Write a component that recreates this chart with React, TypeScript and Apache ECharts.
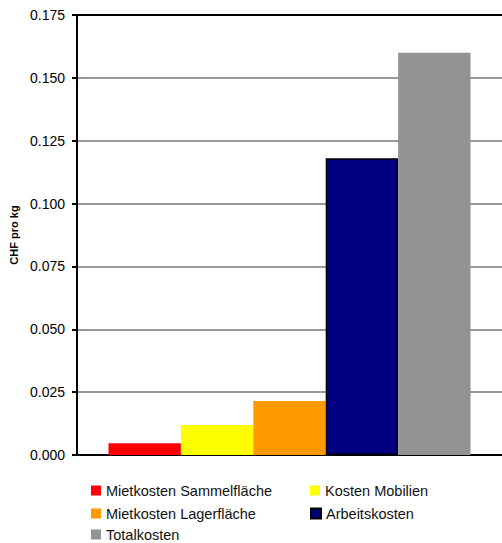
import React, { useEffect, useRef } from "react";
import * as echarts from "echarts";

const categories = [""];
const seriesNames = [
  "Mietkosten Sammelfläche",
  "Kosten Mobilien",
  "Mietkosten Lagerfläche",
  "Arbeitskosten",
  "Totalkosten",
];
const seriesValues = [0.0047, 0.0119, 0.0215, 0.118, 0.16];
const seriesColors = ["#FF0000", "#FFFF00", "#FF9900", "#000080", "#939393"];
const yTicks = { min: 0, max: 0.175, interval: 0.025 };
const yAxisName = "CHF pro kg";

const FONT = "'Liberation Sans', Arial, sans-serif";

export default function App() {
  const ref = useRef<HTMLDivElement>(null);
  useEffect(() => {
    if (!ref.current) return;
    const chart = echarts.init(ref.current, undefined, { renderer: "svg" });
    const series = seriesNames.map((name, i) => ({
      name,
      type: "bar",
      xAxisIndex: 0,
      data: [seriesValues[i]],
      barWidth: 72.4,
      barGap: "0%",
      itemStyle: {
        color: seriesColors[i],
        borderColor: i === 3 ? "#000" : seriesColors[i],
        borderWidth: i === 3 ? 1.5 : 0,
      },
    }));
    const legendText = { fontFamily: FONT, fontSize: 14.5, color: "#111" };
    // legend placement: [seriesIndex, left, centerY]
    const legendPos: [number, number, number][] = [
      [0, 91, 491],
      [1, 310, 491],
      [2, 91, 514],
      [3, 310, 514],
      [4, 91, 535],
    ];
    const legends = legendPos.map(([si, left, cy]) => ({
      data: [seriesNames[si]],
      orient: "horizontal",
      left,
      top: cy - 8,
      padding: 0,
      itemWidth: 10,
      itemHeight: 10,
      itemGap: 0,
      icon: "rect",
      textStyle: legendText,
      selectedMode: false,
    }));
    chart.setOption({
      animation: false,
      backgroundColor: "#fff",
      grid: { left: 73, top: 15, width: 442, height: 440 },
      xAxis: [
        {
          type: "category",
          data: categories,
          position: "bottom",
          axisLine: { lineStyle: { color: "#000", width: 2 } },
          axisTick: { show: false },
          axisLabel: { show: false },
        },
        {
          type: "category",
          data: categories,
          position: "top",
          axisLine: { lineStyle: { color: "#000", width: 2 } },
          axisTick: { show: false },
          axisLabel: { show: false },
        },
      ],
      yAxis: {
        type: "value",
        min: yTicks.min,
        max: yTicks.max,
        interval: yTicks.interval,
        name: yAxisName,
        nameLocation: "middle",
        nameGap: 58,
        nameTextStyle: { fontFamily: FONT, fontSize: 11, fontWeight: "bold", color: "#000" },
        axisLine: { show: true, lineStyle: { color: "#000", width: 2 } },
        axisTick: { show: true, length: 5, lineStyle: { color: "#000", width: 2 } },
        axisLabel: {
          fontFamily: FONT,
          fontSize: 14,
          color: "#000",
          margin: 12,
          formatter: (v: number) => v.toFixed(3),
        },
        splitLine: { show: true, lineStyle: { color: "#999", width: 2 } },
      },
      legend: legends,
      series,
    });
    return () => chart.dispose();
  }, []);
  return (
    <div
      ref={ref}
      style={{ position: "fixed", left: 0, top: 0, width: 502, height: 543 }}
    />
  );
}
